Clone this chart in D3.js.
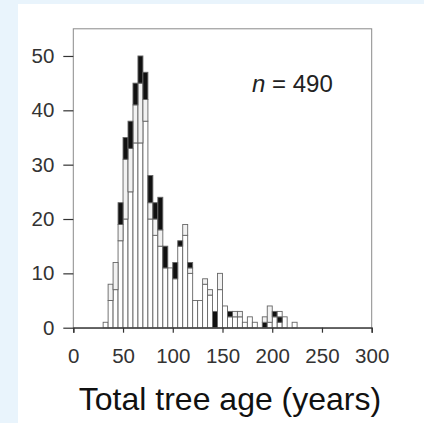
<!DOCTYPE html>
<html><head><meta charset="utf-8">
<script src="https://cdn.jsdelivr.net/npm/d3@7"></script>
<style>
html,body{margin:0;padding:0;background:#e9f4fc;}
svg{display:block;}
</style></head>
<body>
<svg id="chart" width="424" height="423"></svg>
<script>
const binStart = [30,35,40,45,50,55,60,65,70,75,80,85,90,95,100,105,110,115,120,125,130,135,140,145,150,155,160,165,170,175,180,185,190,195,200,205,210,215,220];
const blackLow = [0,0,0,0,0,0,0,0,0,0,0,0,0,0,0,0,0,0,0,0,0,0,3,0,0,0,0,0,0,0,0,0,1,0,0,0,0,0,0];
const white    = [1,5,7,16,20,25,34,34,38,20,17,15,11,11,9,15,17,10,5,5,8,6,0,7,4,2,2,2,1,2,1,0,0,1,2,1,2,0,1];
const light    = [0,3,5,3,11,8,7,11,4,3,3,3,0,0,0,0,2,1,0,0,1,1,0,3,0,0,1,1,0,0,0,0,1,3,0,0,0,0,0];
const black    = [0,0,0,4,4,5,4,5,5,5,3,6,4,0,3,1,0,1,0,0,0,0,0,0,0,1,0,0,0,0,0,0,0,0,1,1,0,0,0];
const whiteTop = [0,0,0,0,0,0,0,0,0,0,0,0,0,0,0,0,0,0,0,0,0,0,0,0,0,0,0,0,0,0,0,0,0,0,0,1,0,0,0];
const binWidth = 5;
const xTicks = [0,50,100,150,200,250,300];
const yTicks = [0,10,20,30,40,50];
const xTitle = "Total tree age (years)";
const nLabel = "490";

const seriesKeys = ["blackLow","white","light","black","whiteTop"];
const seriesData = {blackLow, white, light, black, whiteTop};
const fills = {blackLow:"#111", white:"#fff", light:"#f2f2f2", black:"#111", whiteTop:"#fff"};

const rows = binStart.map((b,i)=>{
  const r = {bin:b};
  seriesKeys.forEach(k=> r[k]=seriesData[k][i]);
  return r;
});

const svg = d3.select("#chart");
svg.append("rect").attr("x",18).attr("y",4).attr("width",406).attr("height",419).attr("fill","#fff");

const x = d3.scaleLinear().domain([0,300]).range([73.3,371.7]);
const y = d3.scaleLinear().domain([0,55]).range([327.7,28.8]);

// frame
svg.append("rect").attr("x",x(0)).attr("y",y(55)).attr("width",x(300)-x(0)).attr("height",y(0)-y(55))
  .attr("fill","none").attr("stroke","#8a8a8a").attr("stroke-width",1);

const stacked = d3.stack().keys(seriesKeys)(rows);

const g = svg.append("g");
stacked.forEach(s=>{
  g.selectAll(null).data(s.filter(d=>d[1]>d[0])).enter().append("rect")
    .attr("x",d=>x(d.data.bin))
    .attr("width",d=>x(d.data.bin+binWidth)-x(d.data.bin))
    .attr("y",d=>y(d[1]))
    .attr("height",d=>y(d[0])-y(d[1]))
    .attr("fill",fills[s.key])
    .attr("stroke","#666").attr("stroke-width",0.9);
});

const font = "Liberation Sans, Arial, sans-serif";
// axes
const yAxis = d3.axisLeft(y).tickValues(yTicks).tickSize(10).tickPadding(9);
const ya = svg.append("g").attr("transform",`translate(${x(0)},0)`).call(yAxis);
ya.select(".domain").remove();
ya.selectAll("line").attr("stroke","#333").attr("stroke-width",1.2);
ya.selectAll("text").attr("font-family",font).attr("font-size",20.5).attr("fill","#333");

const xAxis = d3.axisBottom(x).tickValues(xTicks).tickSize(5).tickPadding(16);
const xa = svg.append("g").attr("transform",`translate(0,${y(0)})`).call(xAxis);
xa.select(".domain").attr("stroke","#333").attr("stroke-width",1.3);
xa.selectAll("line").attr("stroke","#333").attr("stroke-width",1.2);
xa.selectAll("text").attr("font-family",font).attr("font-size",20.5).attr("fill","#333");

// n label
const nt = svg.append("text").attr("x",252).attr("y",92)
  .attr("font-family",font).attr("font-size",24).attr("fill","#222");
nt.append("tspan").attr("font-style","italic").text("n");
nt.append("tspan").text(" = " + nLabel);

svg.append("text").attr("x",(77+383)/2).attr("y",410).attr("text-anchor","middle")
  .attr("font-family",font).attr("font-size",32).attr("fill","#111")
  .text(xTitle);
</script>
</body></html>
